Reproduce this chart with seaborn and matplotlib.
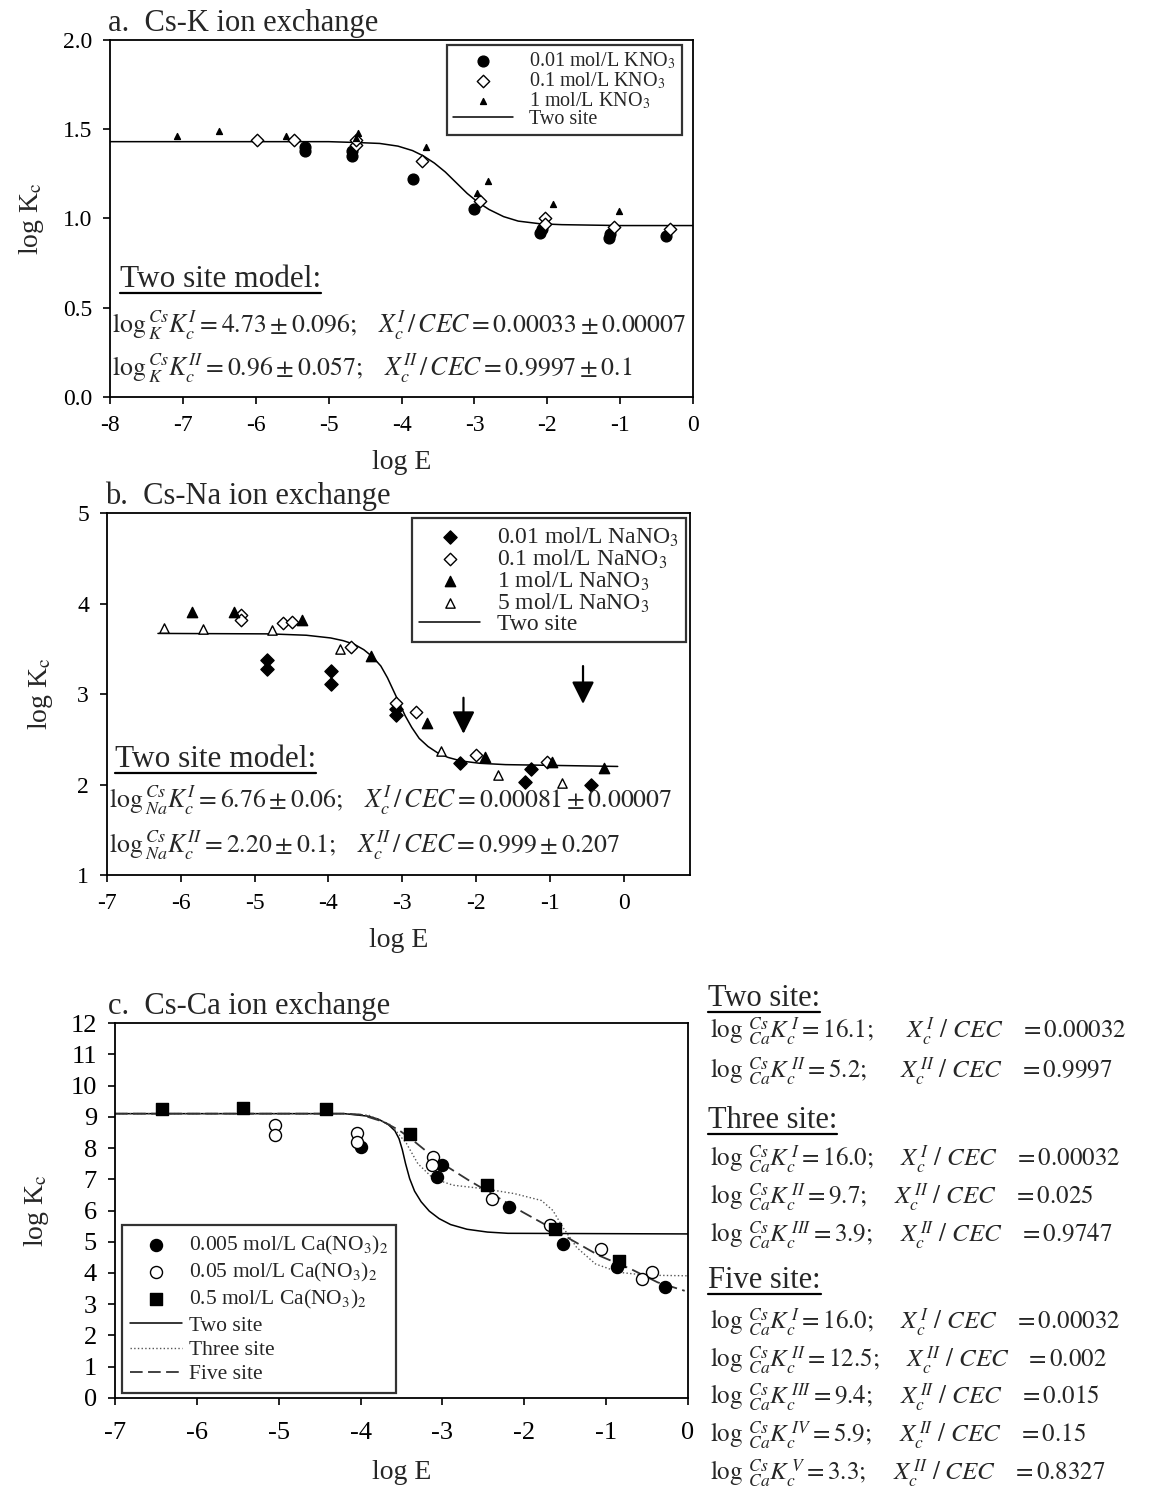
import pandas as pd
import seaborn as sns
import matplotlib.pyplot as plt
from matplotlib.lines import Line2D

sns.set_style("ticks")
plt.rcParams['font.family'] = ['Liberation Serif', 'DejaVu Serif']
plt.rcParams['mathtext.fontset'] = 'stix'
plt.rcParams['axes.unicode_minus'] = False
plt.rcParams['axes.edgecolor'] = 'black'
plt.rcParams['xtick.color'] = 'black'
plt.rcParams['ytick.color'] = 'black'

# ---- panel a: Cs-K ----
a_x_001 = [-5.32, -5.32, -4.68, -4.68, -3.84, -3.0, -2.1, -2.08, -1.16, -1.14, -0.37]
a_y_001 = [1.40, 1.38, 1.38, 1.35, 1.22, 1.05, 0.92, 0.94, 0.89, 0.91, 0.90]
a_x_01 = [-5.98, -5.47, -4.63, -4.63, -3.72, -2.92, -2.03, -2.03, -1.08, -0.32]
a_y_01 = [1.44, 1.44, 1.41, 1.44, 1.32, 1.10, 1.00, 0.97, 0.95, 0.94]
a_x_1 = [-7.08, -6.5, -5.59, -4.6, -4.62, -3.67, -2.82, -2.97, -1.92, -1.02]
a_y_1 = [1.46, 1.49, 1.46, 1.48, 1.45, 1.40, 1.21, 1.14, 1.08, 1.04]
a_fit_x = [-8, -5.0, -4.6, -4.3, -4.05, -3.85, -3.7, -3.55, -3.4, -3.25, -3.1, -2.95,
           -2.8, -2.6, -2.4, -2.1, -1.8, -1.0, 0]
a_fit_y = [1.43, 1.43, 1.425, 1.42, 1.405, 1.38, 1.35, 1.31, 1.26, 1.20, 1.14, 1.09,
           1.05, 1.01, 0.985, 0.97, 0.965, 0.96, 0.96]

# ---- panel b: Cs-Na ----
b_x_001 = [-4.83, -4.83, -3.97, -3.97, -3.08, -3.08, -2.22, -1.25, -1.33, -0.44]
b_y_001 = [3.38, 3.28, 3.25, 3.11, 2.83, 2.77, 2.24, 2.17, 2.03, 2.00]
b_x_01 = [-5.19, -5.19, -4.62, -4.49, -3.70, -3.08, -2.82, -2.0, -1.04]
b_y_01 = [3.87, 3.82, 3.79, 3.80, 3.52, 2.90, 2.80, 2.33, 2.25]
b_x_1 = [-5.85, -5.28, -4.36, -3.42, -2.66, -1.88, -0.97, -0.26]
b_y_1 = [3.91, 3.91, 3.82, 3.42, 2.68, 2.30, 2.25, 2.18]
b_x_5 = [-6.23, -5.70, -4.77, -3.84, -2.48, -1.70, -0.84]
b_y_5 = [3.73, 3.72, 3.71, 3.50, 2.37, 2.10, 2.02]
b_fit_x = [-6.31, -4.8, -4.3, -3.97, -3.80, -3.65, -3.52, -3.40, -3.29, -3.20, -3.12, -3.04,
           -2.96, -2.87, -2.77, -2.65, -2.52, -2.38, -2.20, -1.95, -1.6, -0.84, -0.08]
b_fit_y = [3.67, 3.665, 3.65, 3.62, 3.59, 3.55, 3.49, 3.41, 3.31, 3.18, 3.04, 2.90,
           2.76, 2.63, 2.51, 2.42, 2.35, 2.30, 2.26, 2.235, 2.22, 2.21, 2.20]
b_arrow_x = [-2.17, -0.55]
b_arrow_top = [2.99, 3.34]
b_arrow_tip = [2.53, 2.86]

# ---- panel c: Cs-Ca ----
c_x_0005 = [-4.0, -3.01, -3.06, -2.19, -1.53, -0.87, -0.28]
c_y_0005 = [8.04, 7.45, 7.07, 6.11, 4.93, 4.18, 3.54]
c_x_005 = [-5.04, -5.04, -4.04, -4.04, -3.11, -3.13, -2.40, -1.69, -1.06, -0.56, -0.44]
c_y_005 = [8.74, 8.41, 8.47, 8.20, 7.72, 7.45, 6.38, 5.52, 4.77, 3.80, 4.02]
c_x_05 = [-6.43, -5.43, -4.42, -3.40, -2.45, -1.62, -0.84]
c_y_05 = [9.24, 9.27, 9.24, 8.45, 6.81, 5.41, 4.39]
c_two_x = [-7, -4.2, -3.91, -3.78, -3.66, -3.58, -3.53, -3.49, -3.45, -3.40, -3.34, -3.26,
           -3.16, -3.04, -2.90, -2.70, -2.45, -2.2, 0]
c_two_y = [9.1, 9.1, 9.02, 8.92, 8.75, 8.55, 8.30, 7.95, 7.50, 7.02, 6.62, 6.28,
           5.98, 5.74, 5.55, 5.40, 5.31, 5.27, 5.25]
c_three_x = [-7, -4.2, -3.9, -3.63, -3.44, -3.30, -3.11, -2.87, -2.50, -2.12, -1.79, -1.65,
             -1.53, -1.36, -1.13, -0.84, -0.51, 0]
c_three_y = [9.1, 9.1, 9.05, 8.74, 8.15, 7.5, 7.02, 6.81, 6.7, 6.54, 6.32, 6.0,
             5.47, 4.82, 4.29, 4.02, 3.93, 3.91]
c_five_x = [-7, -4.2, -4.0, -3.72, -3.53, -3.39, -3.16, -2.97, -2.68, -2.40, -2.02, -1.69,
            -1.41, -1.08, -0.70, -0.37, -0.04]
c_five_y = [9.1, 9.1, 9.07, 8.84, 8.57, 8.31, 7.82, 7.45, 6.97, 6.54, 5.95, 5.47,
            5.04, 4.55, 4.13, 3.70, 3.43]

a_eqs = [r'$\log{}^{Cs}_{K}K^{I}_{c} = 4.73 \pm 0.096;\quad X^{I}_{c}\,/\,CEC = 0.00033 \pm 0.00007$',
         r'$\log{}^{Cs}_{K}K^{II}_{c} = 0.96 \pm 0.057;\quad X^{II}_{c}\,/\,CEC = 0.9997 \pm 0.1$']
b_eqs = [r'$\log{}^{Cs}_{Na}K^{I}_{c} = 6.76 \pm 0.06;\quad X^{I}_{c}\,/\,CEC = 0.00081 \pm 0.00007$',
         r'$\log{}^{Cs}_{Na}K^{II}_{c} = 2.20 \pm 0.1;\quad X^{II}_{c}\,/\,CEC = 0.999 \pm 0.207$']
c_blocks = [
    ('Two site:', [r'$\log\,{}^{Cs}_{Ca}K^{\,I}_{c} = 16.1;\quad\ \ X^{\,I}_{c}\ /\ CEC\ \ \ = 0.00032$',
                   r'$\log\,{}^{Cs}_{Ca}K^{\,II}_{c} = 5.2;\quad\ \ X^{\,II}_{c}\ /\ CEC\ \ \ = 0.9997$']),
    ('Three site:', [r'$\log\,{}^{Cs}_{Ca}K^{\,I}_{c} = 16.0;\quad\ X^{\,I}_{c}\ /\ CEC\ \ \ = 0.00032$',
                     r'$\log\,{}^{Cs}_{Ca}K^{\,II}_{c} = 9.7;\quad\ X^{\,II}_{c}\ /\ CEC\ \ \ = 0.025$',
                     r'$\log\,{}^{Cs}_{Ca}K^{\,III}_{c} = 3.9;\quad\ X^{\,II}_{c}\ /\ CEC\ \ \ = 0.9747$']),
    ('Five site:', [r'$\log\,{}^{Cs}_{Ca}K^{\,I}_{c} = 16.0;\quad\ X^{\,I}_{c}\ /\ CEC\ \ \ = 0.00032$',
                    r'$\log\,{}^{Cs}_{Ca}K^{\,II}_{c} = 12.5;\quad\ X^{\,II}_{c}\ /\ CEC\ \ \ = 0.002$',
                    r'$\log\,{}^{Cs}_{Ca}K^{\,III}_{c} = 9.4;\quad\ X^{\,II}_{c}\ /\ CEC\ \ \ = 0.015$',
                    r'$\log\,{}^{Cs}_{Ca}K^{\,IV}_{c} = 5.9;\quad\ X^{\,II}_{c}\ /\ CEC\ \ \ = 0.15$',
                    r'$\log\,{}^{Cs}_{Ca}K^{\,V}_{c} = 3.3;\quad\ X^{\,II}_{c}\ /\ CEC\ \ \ = 0.8327$']),
]

fig = plt.figure(figsize=(11.51, 14.95), dpi=100)
ax_a = fig.add_axes([0.0956, 0.7345, 0.5066, 0.2388])
ax_b = fig.add_axes([0.0930, 0.4147, 0.5065, 0.2421])
ax_c = fig.add_axes([0.0999, 0.0649, 0.4978, 0.2508])

underlined = []


def style_axes(ax, size):
    for sp in ax.spines.values():
        sp.set_linewidth(1.3)
        sp.set_visible(True)
    ax.tick_params(direction='out', length=5, width=1.2, labelsize=size, pad=8)


def dots(ax, x, y, marker, s, filled, label):
    sns.scatterplot(x=x, y=y, marker=marker, s=s,
                    color='black' if filled else 'white',
                    edgecolor='black', linewidth=1.0, label=label,
                    zorder=3, ax=ax)


def ordered_legend(ax, order, **kw):
    h, l = ax.get_legend_handles_labels()
    d = dict(zip(l, h))
    leg = ax.legend([d[k] for k in order], order, frameon=True, fancybox=False,
                    borderaxespad=0, **kw)
    leg.get_frame().set_edgecolor('black')
    leg.get_frame().set_linewidth(1.6)
    return leg


# panel a
sns.lineplot(x=a_fit_x, y=a_fit_y, color='black', lw=1.1, label='Two site', ax=ax_a)
dots(ax_a, a_x_001, a_y_001, 'o', 60, True, r'0.01 mol/L KNO$_3$')
dots(ax_a, a_x_01, a_y_01, 'D', 40, False, r'0.1 mol/L KNO$_3$')
dots(ax_a, a_x_1, a_y_1, '^', 18, True, r'1 mol/L KNO$_3$')
ax_a.set_xlim(-8, 0)
ax_a.set_ylim(0, 2)
ax_a.set_xticks(range(-8, 1))
ax_a.set_yticks([0, 0.5, 1.0, 1.5, 2.0])
ax_a.yaxis.set_major_formatter('{x:.1f}')
style_axes(ax_a, 17)
ordered_legend(ax_a, [r'0.01 mol/L KNO$_3$', r'0.1 mol/L KNO$_3$', r'1 mol/L KNO$_3$', 'Two site'],
               loc='upper right', bbox_to_anchor=(0.981, 0.986), fontsize=14.5,
               labelspacing=-0.05, handlelength=3.0, handletextpad=0.8, borderpad=0.3)
ax_a.set_xlabel('log E', fontsize=20, labelpad=10)
ax_a.set_ylabel(r'log K$_{\rm c}$', fontsize=20, labelpad=12)
ax_a.text(-0.003, 1.005, 'a.  Cs-K ion exchange', transform=ax_a.transAxes, fontsize=22,
          ha='left', va='bottom')
underlined.append(ax_a.text(0.017, 0.328, 'Two site model:', transform=ax_a.transAxes,
                            fontsize=22.5, ha='left', va='center'))
ax_a.text(0.003, 0.2017, a_eqs[0], transform=ax_a.transAxes, fontsize=18.5, ha='left', va='center')
ax_a.text(0.003, 0.081, a_eqs[1], transform=ax_a.transAxes, fontsize=18.5, ha='left', va='center')

# panel b
sns.lineplot(x=b_fit_x, y=b_fit_y, color='black', lw=1.1, label='Two site', ax=ax_b)
dots(ax_b, b_x_001, b_y_001, 'D', 45, True, r'0.01 mol/L NaNO$_3$')
dots(ax_b, b_x_01, b_y_01, 'D', 40, False, r'0.1 mol/L NaNO$_3$')
dots(ax_b, b_x_1, b_y_1, '^', 55, True, r'1 mol/L NaNO$_3$')
dots(ax_b, b_x_5, b_y_5, '^', 45, False, r'5 mol/L NaNO$_3$')
for x, top, tip in zip(b_arrow_x, b_arrow_top, b_arrow_tip):
    ax_b.annotate('', xy=(x, tip), xytext=(x, top),
                  arrowprops=dict(arrowstyle='-|>', color='black', lw=1.6, mutation_scale=34))
ax_b.set_xlim(-7, 0.9)
ax_b.set_ylim(1, 5)
ax_b.set_xticks(range(-7, 1))
ax_b.set_yticks([1, 2, 3, 4, 5])
style_axes(ax_b, 17)
ordered_legend(ax_b, [r'0.01 mol/L NaNO$_3$', r'0.1 mol/L NaNO$_3$', r'1 mol/L NaNO$_3$',
                      r'5 mol/L NaNO$_3$', 'Two site'],
               loc='upper right', bbox_to_anchor=(0.993, 0.986), fontsize=17,
               labelspacing=-0.05, handlelength=2.6, handletextpad=0.7, borderpad=0.3)
ax_b.set_xlabel('log E', fontsize=20, labelpad=10)
ax_b.set_ylabel(r'log K$_{\rm c}$', fontsize=20, labelpad=16)
ax_b.text(-0.003, 1.005, 'b.  Cs-Na ion exchange', transform=ax_b.transAxes, fontsize=22,
          ha='left', va='bottom')
underlined.append(ax_b.text(0.014, 0.318, 'Two site model:', transform=ax_b.transAxes,
                            fontsize=22.5, ha='left', va='center'))
ax_b.text(0.003, 0.207, b_eqs[0], transform=ax_b.transAxes, fontsize=18.5, ha='left', va='center')
ax_b.text(0.003, 0.083, b_eqs[1], transform=ax_b.transAxes, fontsize=18.5, ha='left', va='center')

# panel c
sns.lineplot(x=c_two_x, y=c_two_y, color='black', lw=1.1, label='Two site', ax=ax_c)
sns.lineplot(x=c_three_x, y=c_three_y, color='#555555', lw=1.0, linestyle=':',
             label='Three site', ax=ax_c)
sns.lineplot(x=c_five_x, y=c_five_y, color='#333333', lw=1.3, linestyle=(0, (7, 3)),
             label='Five site', ax=ax_c)
dots(ax_c, c_x_0005, c_y_0005, 'o', 75, True, r'0.005 mol/L Ca(NO$_3$)$_2$')
dots(ax_c, c_x_005, c_y_005, 'o', 75, False, r'0.05 mol/L Ca(NO$_3$)$_2$')
dots(ax_c, c_x_05, c_y_05, 's', 65, True, r'0.5 mol/L Ca(NO$_3$)$_2$')
ax_c.set_xlim(-7, 0)
ax_c.set_ylim(0, 12)
ax_c.set_xticks(range(-7, 1))
ax_c.set_yticks(range(0, 13))
style_axes(ax_c, 19)
ax_c.tick_params(axis='x', pad=12)
ordered_legend(ax_c, [r'0.005 mol/L Ca(NO$_3$)$_2$', r'0.05 mol/L Ca(NO$_3$)$_2$',
                      r'0.5 mol/L Ca(NO$_3$)$_2$', 'Two site', 'Three site', 'Five site'],
               loc='lower left', bbox_to_anchor=(0.012, 0.013), fontsize=15.5,
               labelspacing=0.2, handlelength=2.4, handletextpad=0.3, borderpad=0.4)
ax_c.set_xlabel('log E', fontsize=20, labelpad=12)
ax_c.set_ylabel(r'log K$_{\rm c}$', fontsize=20, labelpad=14)
ax_c.text(-0.012, 1.005, 'c.  Cs-Ca ion exchange', transform=ax_c.transAxes, fontsize=22,
          ha='left', va='bottom')

# right-hand parameter list for panel c
heading_y = [998, 1120, 1280]
line_y = [[1032, 1072], [1160, 1198, 1236], [1323, 1361, 1398, 1436, 1474]]
for (head, lines), hy, ly in zip(c_blocks, heading_y, line_y):
    underlined.append(fig.text(708 / 1151, 1 - hy / 1495, head, fontsize=22,
                               ha='left', va='center'))
    for s, y in zip(lines, ly):
        fig.text(710 / 1151, 1 - y / 1495, s, fontsize=18, ha='left', va='center')

# underline headings
fig.canvas.draw()
r = fig.canvas.get_renderer()
for t in underlined:
    bb = t.get_window_extent(r).transformed(fig.transFigure.inverted())
    y = bb.y0 + 1.0 / 1495
    fig.add_artist(Line2D([bb.x0, bb.x1], [y, y], transform=fig.transFigure,
                          color='black', lw=1.6))

fig.savefig('out.png', dpi=100)
